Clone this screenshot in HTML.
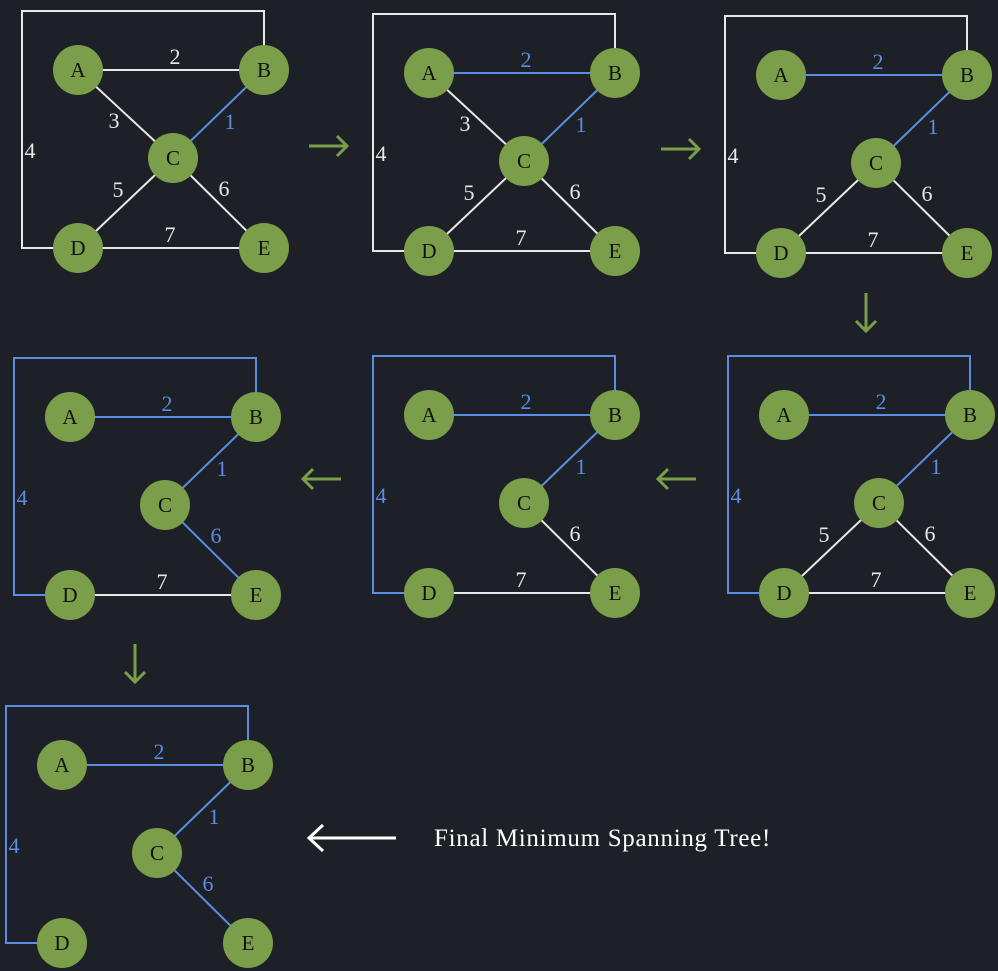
<!DOCTYPE html>
<html><head><meta charset="utf-8"><style>
html,body{margin:0;padding:0;background:#1d2026;}
svg{display:block}
</style></head><body>
<svg id="c" width="998" height="971" xmlns="http://www.w3.org/2000/svg">
<rect width="998" height="971" fill="#1d2026"/>
</svg>
<script>
const W='#e8e8e8', Bl='#5b8ee0', G='#7a9e49';
// panel origins (node A centre)
const panelX=[78,429,781,784,429,70,62];
const panelY=[70,73,75,415,415,417,765];
// edges per panel: [edgeKey, color]
const panelEdges=[
 [['AB',W],['AC',W],['BC',Bl],['box',W],['CD',W],['CE',W],['DE',W]],
 [['AB',Bl],['AC',W],['BC',Bl],['box',W],['CD',W],['CE',W],['DE',W]],
 [['AB',Bl],['BC',Bl],['box',W],['CD',W],['CE',W],['DE',W]],
 [['AB',Bl],['BC',Bl],['box',Bl],['CD',W],['CE',W],['DE',W]],
 [['AB',Bl],['BC',Bl],['box',Bl],['CE',W],['DE',W]],
 [['AB',Bl],['BC',Bl],['box',Bl],['CE',Bl],['DE',W]],
 [['AB',Bl],['BC',Bl],['boxD',Bl],['CE',Bl]]
];
const weights={AB:'2',AC:'3',BC:'1',box:'4',boxD:'4',CD:'5',CE:'6',DE:'7'};
const nodes={A:[0,0],B:[186,0],C:[95,88],D:[0,178],E:[186,178]};
const labelPos={AB:[97,-13],AC:[36,51],BC:[152,52],box:[-48,81],boxD:[-48,81],CD:[40,120],CE:[146,119],DE:[92,165]};
const svg=document.getElementById('c');
const NS='http://www.w3.org/2000/svg';
function mk(t,a){const e=document.createElementNS(NS,t);for(const k in a)e.setAttribute(k,a[k]);svg.appendChild(e);return e;}
panelX.forEach((ox,p)=>{
 const oy=panelY[p];
 const P=n=>[ox+nodes[n][0],oy+nodes[n][1]];
 panelEdges[p].forEach(([k,col])=>{
  let d;
  if(k==='box'||k==='boxD'){
   const [ax,ay]=P('A'),[bx,by]=P('B'),[dx,dy]=P('D');
   const L=ax-56,T=ay-59;
   d=`M${bx} ${by} L${bx} ${T} L${L} ${T} L${L} ${dy} L${dx} ${dy}`;
  } else {
   const [x1,y1]=P(k[0]),[x2,y2]=P(k[1]);
   d=`M${x1} ${y1} L${x2} ${y2}`;
  }
  const e=mk('path',{d:d,fill:'none',stroke:col,'stroke-width':2});
  
  
  const lp=labelPos[k];
  const t=mk('text',{x:ox+lp[0],y:oy+lp[1]+7,fill:col,'font-size':22,'text-anchor':'middle','font-family':'Liberation Serif, serif'});
  t.textContent=weights[k];
  
  
 });
 for(const n in nodes){
  const [x,y]=P(n);
  const c=mk('circle',{cx:x,cy:y,r:25,fill:G});
  
  
  const t=mk('text',{x:x,y:y+7,fill:'#111','font-size':21,'text-anchor':'middle','font-family':'Liberation Serif, serif'});
  t.textContent=n;
  
  
 }
});
// step arrows: direction, centre
const arrowDir=['r','r','d','l','l','d'];
const arrowX=[328,680,866,677,322,135];
const arrowY=[146,149,312,479,479,663];
arrowDir.forEach((dir,i)=>{
 const x=arrowX[i],y=arrowY[i],h=19,k=10;
 let d;
 if(dir==='r') d=`M${x-h} ${y} L${x+h} ${y} M${x+h-k} ${y-k} L${x+h} ${y} L${x+h-k} ${y+k}`;
 else if(dir==='l') d=`M${x+h} ${y} L${x-h} ${y} M${x-h+k} ${y-k} L${x-h} ${y} L${x-h+k} ${y+k}`;
 else d=`M${x} ${y-h} L${x} ${y+h} M${x-k} ${y+h-k} L${x} ${y+h} L${x+k} ${y+h-k}`;
 const e=mk('path',{d:d,fill:'none',stroke:G,'stroke-width':3});
 
 
});
const fa=mk('path',{d:'M396 838 L310 838 M323 825 L309 838 L323 851',fill:'none',stroke:'#fff','stroke-width':3});


const ft=mk('text',{x:434,y:846,fill:'#fff','font-size':25,'letter-spacing':0.7,'font-family':'Liberation Serif, serif'});
ft.textContent='Final Minimum Spanning Tree!';


</script>
</body></html>
